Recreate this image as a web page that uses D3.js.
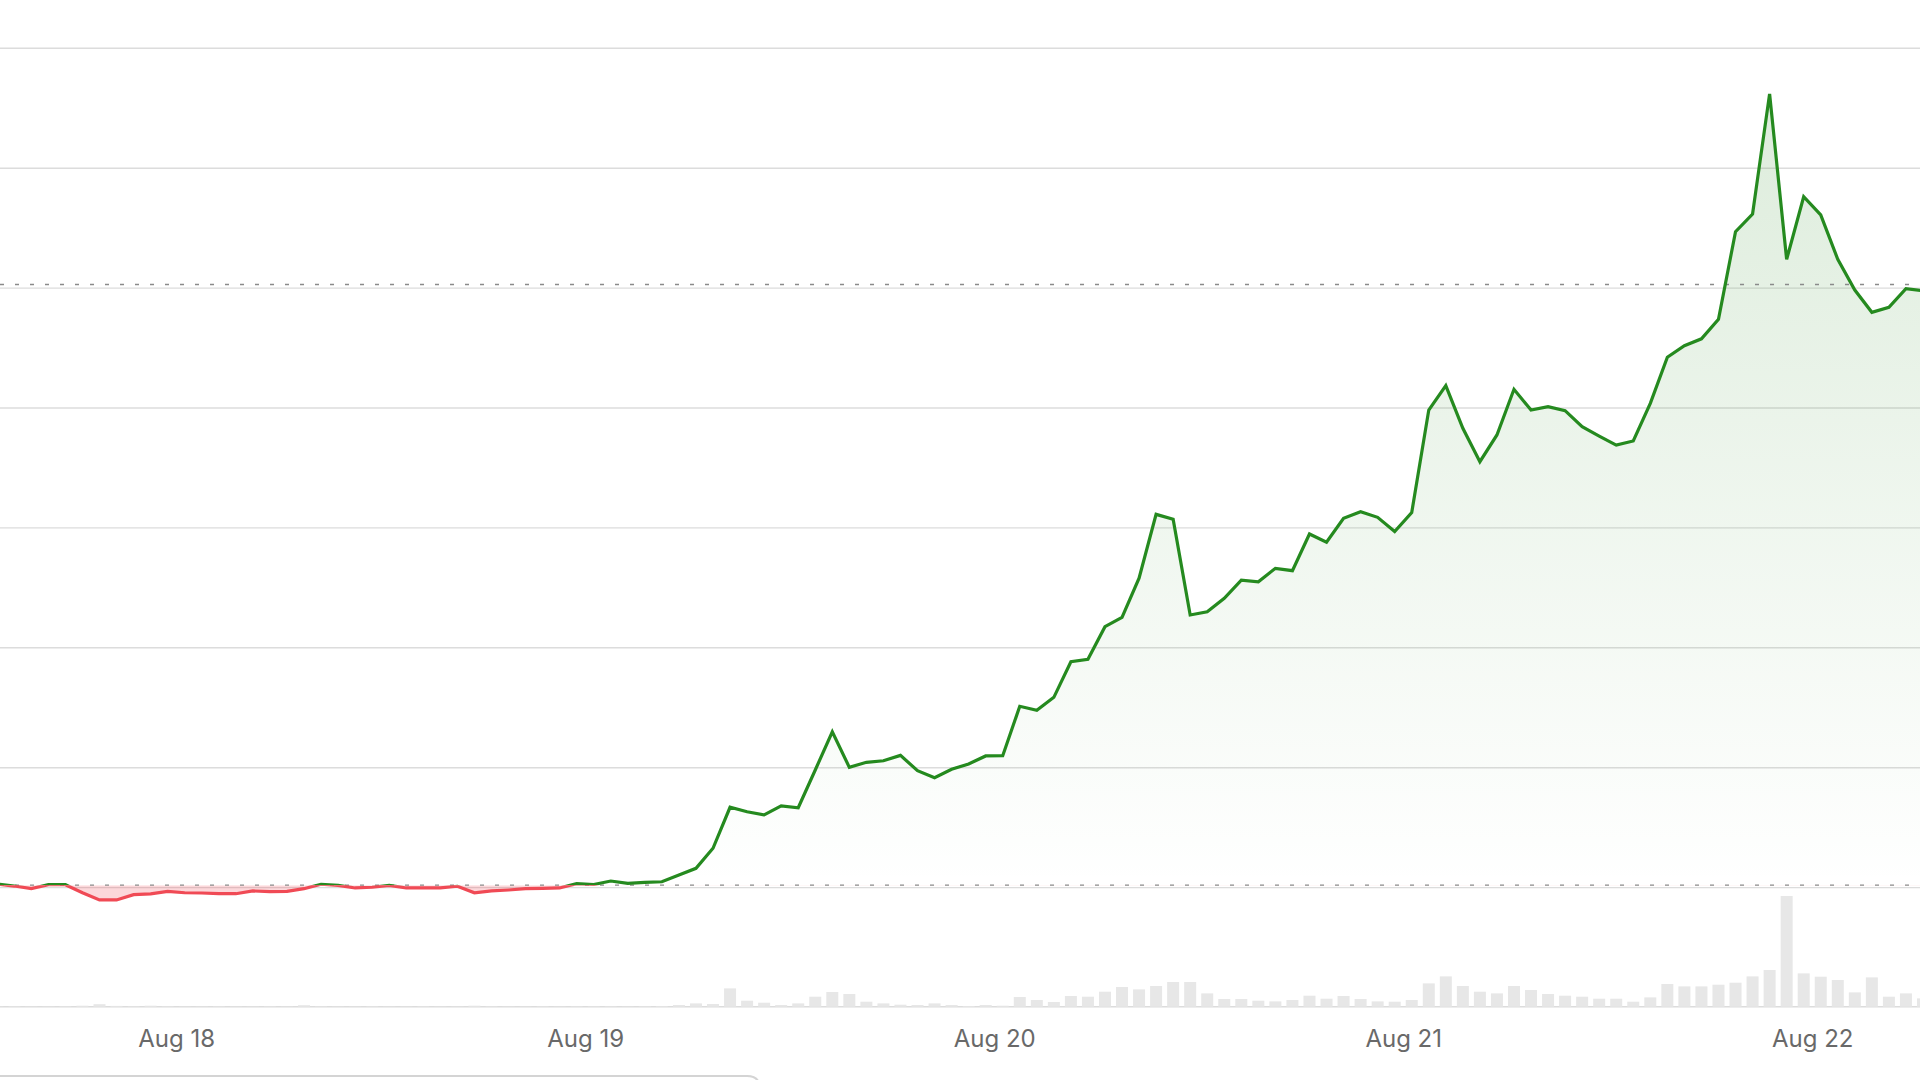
<!DOCTYPE html>
<html><head><meta charset="utf-8">
<script src="https://cdn.jsdelivr.net/npm/d3@7"></script>
<style>
html,body{margin:0;padding:0;background:#fff;overflow:hidden}
svg{display:block}
.xaxis .tick text{font-family:Inter,"Liberation Sans",sans-serif;font-size:24px;fill:#696969}
</style></head><body>
<svg id="chart" width="1920" height="1080"></svg>
<script>
// ---- data ----
const startTime = "2024-08-17T13:30:00Z"; // first hourly sample
const dayLabels = ["2024-08-18","2024-08-19","2024-08-20","2024-08-21","2024-08-22"];
const prices = [
  100.30,100.13,99.91,100.24,100.24,99.57,98.97,98.97,99.41,99.47,
  99.69,99.57,99.55,99.49,99.49,99.72,99.66,99.69,99.91,100.28,
  100.19,99.97,100.03,100.19,99.97,99.97,99.97,100.11,99.57,99.72,
  99.80,99.91,99.94,99.97,100.33,100.26,100.55,100.36,100.44,100.49,
  101.05,101.61,103.28,106.70,106.33,106.06,106.81,106.66,109.81,113.00,
  110.03,110.45,110.58,111.03,109.75,109.17,109.87,110.31,110.98,111.00,
  115.12,114.79,115.87,118.84,119.04,121.76,122.54,125.80,131.13,130.72,
  122.74,123.01,124.13,125.65,125.51,126.63,126.43,129.49,128.80,130.80,
  131.35,130.88,129.70,131.28,139.83,141.86,138.31,135.52,137.75,141.56,
  139.83,140.11,139.78,138.44,137.66,136.91,137.25,140.39,144.23,145.20,
  145.77,147.40,154.70,156.18,166.20,152.39,157.62,156.10,152.40,149.84,
  147.98,148.40,149.95,149.78
];
const volumes = [
  3,4,3,3,4,10,25,8,4,10,
  4,3,3,4,3,3,4,3,15,5,
  3,3,4,3,3,4,3,3,10,4,
  3,3,4,3,4,5,4,3,5,6,
  17,33,27,183,60,40,17,33,100,147,
  127,50,33,20,17,33,17,7,17,10,
  97,67,47,107,100,150,197,173,207,247,
  247,133,77,77,60,53,67,110,80,107,
  77,53,50,67,233,303,207,150,133,207,
  167,127,110,100,80,80,50,93,227,203,
  203,220,240,303,367,1107,333,300,267,143,
  293,100,133,83
];
const gridValues = [100,110,120,130,140,150,160,170];
const previousClose = 100.2;
const upperReference = 150.3;

// ---- scales ----
const W = 1920, H = 1080;
const svg = d3.select("#chart");
const hour = 3600e3;
const t0 = new Date(startTime).getTime();
const series = prices.map((p, i) => ({t: new Date(t0 + i*hour), p, v: volumes[i]}));
const aug19 = Date.parse("2024-08-19T00:00:00Z");
const x = d3.scaleUtc()
  .domain([new Date(aug19 - 34.339*hour), new Date(aug19 + 78.325*hour)])
  .range([0, W]);
const y = d3.scaleLinear().domain([100, 170]).range([887.6, 48.3]);
const yv = d3.scaleLinear().domain([0, 1200]).range([1006.7, 886.7]);
const yBase = y(previousClose);

// ---- defs ----
const defs = svg.append("defs");
defs.append("clipPath").attr("id","above").append("rect")
  .attr("x",0).attr("y",0).attr("width",W).attr("height",yBase);
defs.append("clipPath").attr("id","below").append("rect")
  .attr("x",0).attr("y",yBase).attr("width",W).attr("height",H-yBase);
const grad = defs.append("linearGradient").attr("id","gfill")
  .attr("gradientUnits","userSpaceOnUse")
  .attr("x1",0).attr("x2",0).attr("y1",y(d3.max(prices))).attr("y2",yBase);
grad.append("stop").attr("offset","0%").attr("stop-color","#2a8a22").attr("stop-opacity",0.16);
grad.append("stop").attr("offset","100%").attr("stop-color","#2a8a22").attr("stop-opacity",0.0);

// ---- gridlines ----
svg.append("g").selectAll("line").data(gridValues).join("line")
  .attr("x1",0).attr("x2",W).attr("y1",d=>y(d)).attr("y2",d=>y(d))
  .attr("stroke","#dcdcdc").attr("stroke-width",1.4);
svg.append("line").attr("x1",0).attr("x2",W).attr("y1",yv(0)).attr("y2",yv(0))
  .attr("stroke","#dcdcdc").attr("stroke-width",1.6);

// ---- volume bars ----
const bw = 12;
svg.append("g").selectAll("rect").data(series).join("rect")
  .attr("x", d=>x(d.t)-bw/2).attr("width", bw)
  .attr("y", d=>yv(d.v)).attr("height", d=>yv(0)-yv(d.v))
  .attr("fill","#e7e7e7");

// ---- areas ----
const area = d3.area().x(d=>x(d.t)).y0(yBase).y1(d=>y(d.p));
svg.append("path").datum(series).attr("d",area)
  .attr("fill","url(#gfill)").attr("clip-path","url(#above)");
svg.append("path").datum(series).attr("d",area)
  .attr("fill","#f04a55").attr("fill-opacity",0.22).attr("clip-path","url(#below)");

// ---- reference lines ----
svg.append("g").selectAll("line").data([previousClose, upperReference]).join("line")
  .attr("x1",0).attr("x2",W).attr("y1",d=>y(d)).attr("y2",d=>y(d))
  .attr("stroke","#8a8a8a").attr("stroke-width",1.3).attr("stroke-dasharray","4,11");

// ---- price line ----
const line = d3.line().x(d=>x(d.t)).y(d=>y(d.p));
svg.append("path").datum(series).attr("d",line)
  .attr("fill","none").attr("stroke","#258a1f").attr("stroke-width",3.2)
  .attr("stroke-linejoin","miter").attr("stroke-miterlimit",4)
  .attr("clip-path","url(#above)");
svg.append("path").datum(series).attr("d",line)
  .attr("fill","none").attr("stroke","#f04a55").attr("stroke-width",3.2)
  .attr("stroke-linejoin","miter").attr("clip-path","url(#below)");

// ---- x axis ----
const xAxis = d3.axisBottom(x)
  .tickValues(dayLabels.map(s=>new Date(s+"T00:00:00Z")))
  .tickFormat(d3.utcFormat("%b %-d"))
  .tickSize(0).tickPadding(0);
const gx = svg.append("g").attr("class","xaxis").attr("transform","translate(0,1030)").call(xAxis);
gx.select(".domain").remove();
gx.selectAll(".tick text").attr("dy","0.71em");

// ---- bottom panel outline ----
svg.append("path")
  .attr("d", `M0,1076 H${760-13} Q760,1076 760,${1076+13} V1100`)
  .attr("fill","none").attr("stroke","#d4d4d4").attr("stroke-width",2);
</script>
</body></html>
